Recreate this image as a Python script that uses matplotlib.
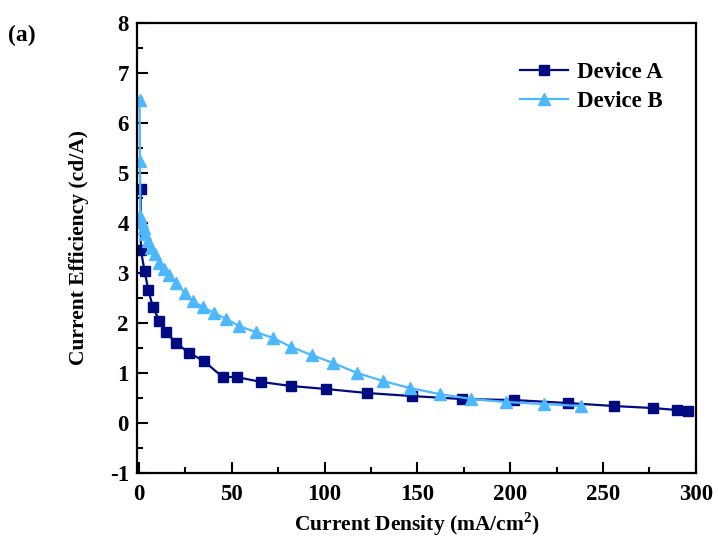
import matplotlib
matplotlib.use("Agg")
import matplotlib.pyplot as plt
from matplotlib.ticker import MultipleLocator

plt.rcParams['font.family'] = ['Liberation Serif', 'DejaVu Serif']
plt.rcParams['font.weight'] = 'bold'
plt.rcParams['axes.unicode_minus'] = False
plt.rcParams['mathtext.fontset'] = 'custom'
plt.rcParams['mathtext.rm'] = 'Liberation Serif:bold'

# Device A
a_x = [1, 1, 3, 5, 7.5, 11, 14.5, 20, 27, 35, 45, 52.6, 66, 82, 101, 123, 147, 174, 202, 231, 256, 277, 290, 296]
a_y = [4.68, 3.46, 3.04, 2.66, 2.32, 2.04, 1.82, 1.6, 1.4, 1.24, 0.92, 0.92, 0.82, 0.74, 0.68, 0.6, 0.54, 0.48, 0.46, 0.40, 0.34, 0.30, 0.26, 0.24]
# Device B
b_x = [0.3, 0.5, 0.8, 1.5, 2.5, 3.5, 5, 6.5, 8.6, 11, 13.4, 16, 20, 24.7, 29, 34.4, 40.6, 47, 54, 62.8, 72.4, 82, 93, 104.7, 117.6, 131.5, 146, 162, 179, 198, 218, 238]
b_y = [6.46, 5.24, 4.14, 4.02, 3.9, 3.78, 3.64, 3.5, 3.38, 3.2, 3.08, 2.96, 2.8, 2.6, 2.44, 2.32, 2.2, 2.08, 1.94, 1.82, 1.7, 1.52, 1.36, 1.2, 1.0, 0.84, 0.7, 0.58, 0.48, 0.42, 0.38, 0.34]

fig = plt.figure(figsize=(7.18, 5.45), dpi=100)
ax = fig.add_axes([0.191, 0.132, 0.778, 0.826])

ax.plot(a_x, a_y, color='#000c80', marker='s', markersize=7.5, linewidth=1.6, label='Device A')
ax.plot(b_x, b_y, color='#4db8ff', marker='^', markersize=9, linewidth=1.6, label='Device B')

ax.set_xlim(-1, 300)
ax.set_ylim(-1, 8)
ax.xaxis.set_major_locator(MultipleLocator(50))
ax.xaxis.set_minor_locator(MultipleLocator(25))
ax.yaxis.set_major_locator(MultipleLocator(1))
ax.yaxis.set_minor_locator(MultipleLocator(0.5))
ax.tick_params(which='both', direction='in', top=False, right=False, labelsize=16.5, width=1.5)
ax.tick_params(axis='x', which='major', pad=8)
ax.tick_params(axis='y', which='major', pad=6)
ax.tick_params(which='major', length=8)
ax.tick_params(which='minor', length=4)
for s in ax.spines.values():
    s.set_linewidth(1.6)

ax.set_xlabel('Current Density (mA/cm$^2$)', fontsize=15.5, fontweight='bold', labelpad=4)
ax.set_ylabel('Current Efficiency (cd/A)', fontsize=15.5, fontweight='bold', labelpad=15)

leg = ax.legend(loc='upper right', bbox_to_anchor=(0.978, 0.96), frameon=False, fontsize=16.5,
                handlelength=2.1, handletextpad=0.4, labelspacing=0.35)
fig.text(0.011, 0.925, '(a)', fontsize=17, fontweight='bold')

fig.savefig('out.png', dpi=100)
